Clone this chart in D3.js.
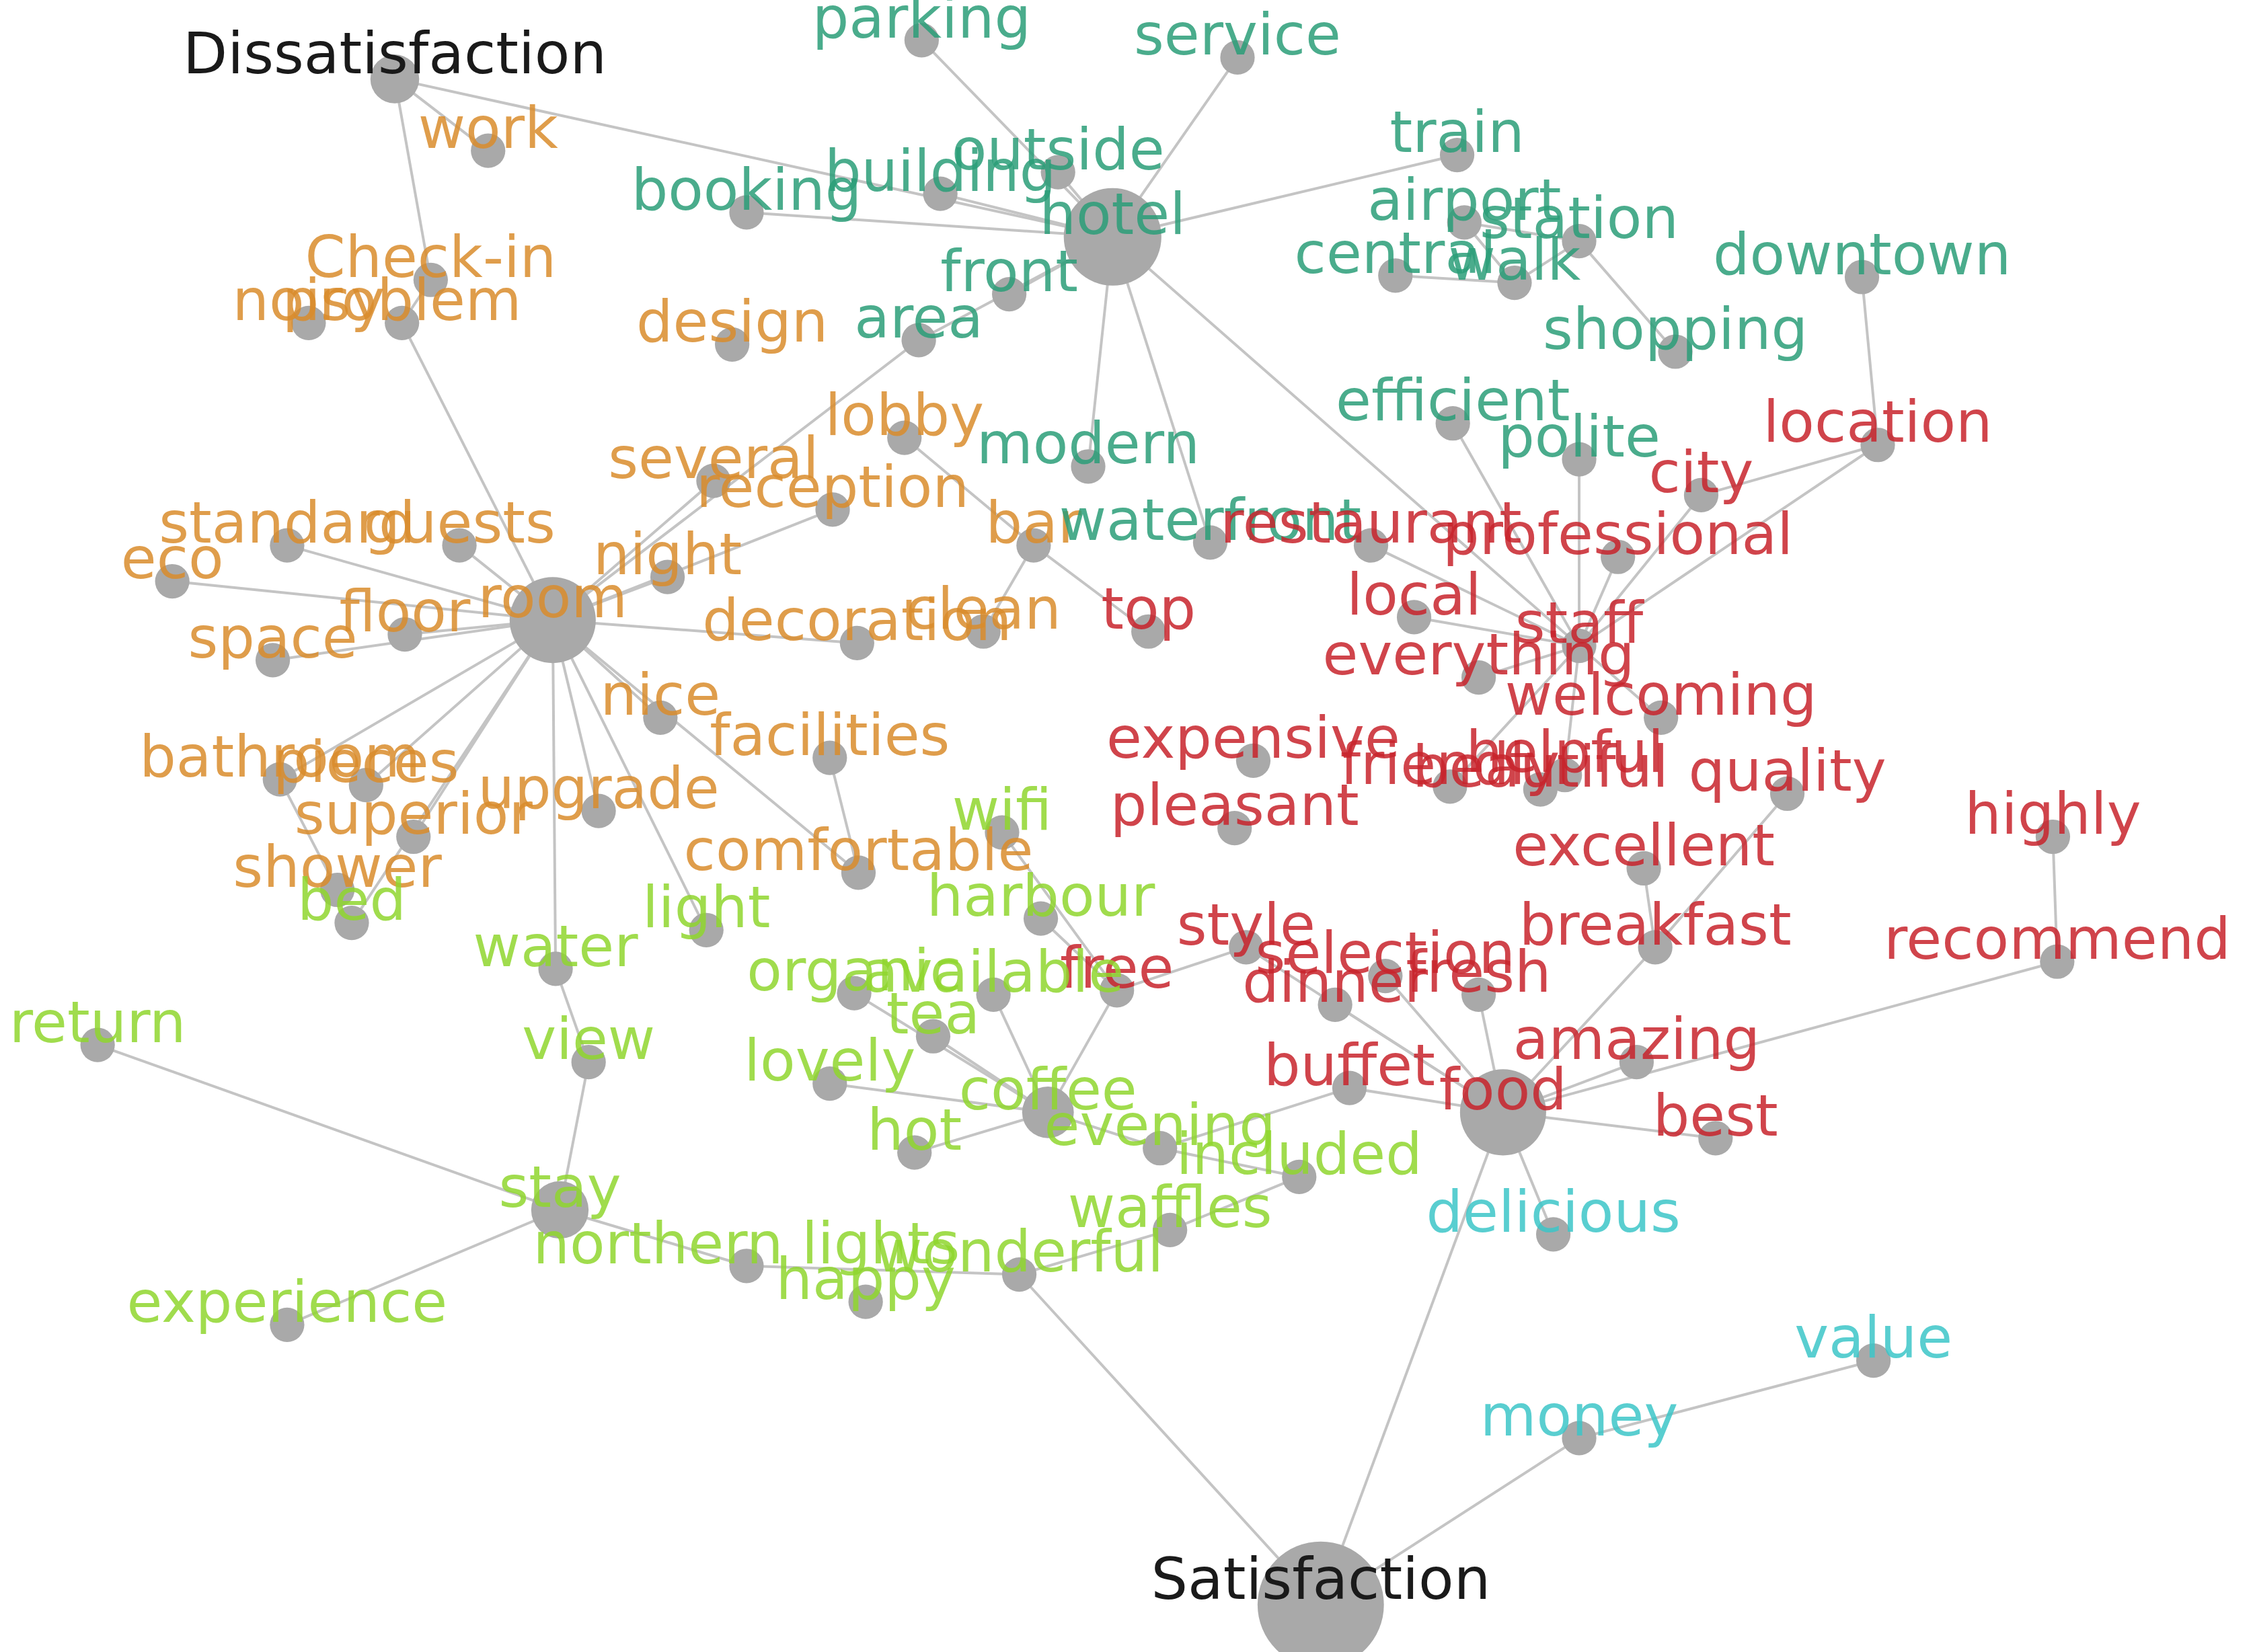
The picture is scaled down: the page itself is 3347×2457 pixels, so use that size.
<!DOCTYPE html>
<html><head><meta charset="utf-8">
<script src="https://cdn.jsdelivr.net/npm/d3@7"></script>
<style>body{margin:0;background:#fff}</style>
</head><body><svg id="c" width="3347" height="2457"></svg>
<script>
// node names, groups, sizes and layout positions (reference units, 1568 x 1151)
const names = ["Dissatisfaction","work","Check-in","noisy","problem","design","lobby","several","reception","standard","guests","eco","night","room","floor","space","decoration","clean","nice","facilities","bathroom","pieces","upgrade","superior","shower","comfortable","bar",
"parking","service","outside","building","booking","hotel","train","airport","station","central","walk","downtown","front","area","shopping","efficient","polite","modern","waterfront",
"location","city","professional","restaurant","local","top","staff","everything","welcoming","expensive","helpful","friendly","beautiful","quality","pleasant","highly","excellent","breakfast","style","recommend","selection","fresh","dinner","free","amazing","buffet","food","best",
"wifi","bed","light","harbour","water","organic","available","tea","return","view","lovely","coffee","hot","evening","included","stay","waffles","northern lights","wonderful","happy","experience",
"delicious","value","money","Satisfaction"];
const groups = [].concat(["k"],Array(26).fill("o"),Array(19).fill("t"),Array(28).fill("r"),Array(21).fill("g"),["c","c","c","k"]);
const posX = [275,340,300,215,280,510,630,497,580,200,320,120,465,385,282,190,597,685,460,578,195,255,417,288,235,598,720,
642,862,737,655,520,775,1015,1020,1100,972,1055,1297,703,640,1167,1012,1100,758,843,
1308,1185,1127,955,985,800,1100,1030,1157,873,1090,1010,1073,1245,860,1430,1145,1153,868,1433,965,1030,930,778,1140,940,1047,1195,
698,245,492,725,387,595,692,650,68,410,578,730,637,808,905,390,815,520,710,603,200,
1082,1305,1100,920];
const posY = [55,105,195,225,225,240,305,335,355,380,380,405,402,432,442,460,448,440,500,528,543,547,565,583,620,608,380,
28,40,120,135,148,165,108,155,168,192,197,193,205,237,245,295,320,325,378,
310,345,388,380,430,440,450,472,500,530,540,548,550,553,577,583,605,660,660,670,680,693,700,690,740,758,775,793,
580,643,648,640,675,692,693,722,728,740,755,775,803,800,820,843,857,882,888,907,923,
860,948,1002,1118];
const sizes = {"Dissatisfaction":17,"hotel":34,"room":30,"food":30,"Satisfaction":44,"coffee":18,"stay":20};
const links = [["Dissatisfaction","hotel"],["Dissatisfaction","work"],["Dissatisfaction","Check-in"],["Check-in","problem"],["problem","room"],
["hotel","parking"],["hotel","service"],["hotel","outside"],["hotel","building"],["hotel","booking"],["hotel","train"],["hotel","front"],["hotel","area"],["hotel","modern"],["hotel","waterfront"],["hotel","staff"],["area","room"],
["airport","walk"],["station","walk"],["station","shopping"],["central","walk"],["airport","station"],
["room","standard"],["room","guests"],["room","eco"],["room","night"],["room","floor"],["room","space"],["room","several"],["room","reception"],["room","decoration"],["room","nice"],["room","bathroom"],["room","pieces"],["room","upgrade"],["room","superior"],["room","light"],["room","water"],["room","bed"],["room","comfortable"],["bathroom","shower"],
["bar","clean"],["bar","top"],["bar","lobby"],["facilities","comfortable"],
["staff","efficient"],["staff","polite"],["staff","location"],["staff","city"],["staff","professional"],["staff","restaurant"],["staff","local"],["staff","everything"],["staff","welcoming"],["staff","friendly"],["staff","helpful"],["location","downtown"],["location","city"],
["highly","recommend"],["recommend","food"],["food","breakfast"],["food","amazing"],["food","best"],["food","buffet"],["food","dinner"],["food","selection"],["food","fresh"],["food","delicious"],["food","Satisfaction"],["breakfast","excellent"],["breakfast","quality"],["food","style"],["buffet","evening"],
["coffee","tea"],["coffee","hot"],["coffee","evening"],["coffee","free"],["coffee","organic"],["coffee","available"],["coffee","lovely"],["free","harbour"],["free","wifi"],["free","style"],
["stay","view"],["stay","return"],["stay","experience"],["stay","northern lights"],["view","water"],["northern lights","wonderful"],["wonderful","Satisfaction"],["wonderful","waffles"],["evening","included"],["waffles","included"],
["money","Satisfaction"],["money","value"]];
const palette = {k:"#1a1a1a",o:"#d98c2b",t:"#2a9d78",r:"#c8232c",g:"#8fd62e",c:"#3cc6c8"};

const x = d3.scaleLinear([0,1568],[0,3347]);
const y = d3.scaleLinear([0,1151],[0,2457]);
const nodes = names.map((n,i)=>({name:n,g:groups[i],x:posX[i],y:posY[i],r:sizes[n]||12}));
const byName = new Map(nodes.map(d=>[d.name,d]));
const svg = d3.select("#c");
svg.append("g").selectAll("line").data(links).join("line")
 .attr("x1",d=>x(byName.get(d[0]).x)).attr("y1",d=>y(byName.get(d[0]).y))
 .attr("x2",d=>x(byName.get(d[1]).x)).attr("y2",d=>y(byName.get(d[1]).y))
 .attr("stroke","#c4c4c4").attr("stroke-width",4);
svg.append("g").selectAll("circle").data(nodes).join("circle")
 .attr("cx",d=>x(d.x)).attr("cy",d=>y(d.y)).attr("r",d=>x(d.r))
 .attr("fill","#a9a9a9");
svg.append("g").selectAll("text").data(nodes).join("text")
 .attr("x",d=>x(d.x)).attr("y",d=>y(d.y-(d.g==="k"?4:2)))
 .attr("text-anchor","middle")
 .attr("font-family","DejaVu Sans, sans-serif")
 .attr("font-size",86)
 .attr("fill",d=>palette[d.g]).attr("fill-opacity",d=>d.g==="k"?1:0.85)
 .text(d=>d.name);
</script></body></html>
